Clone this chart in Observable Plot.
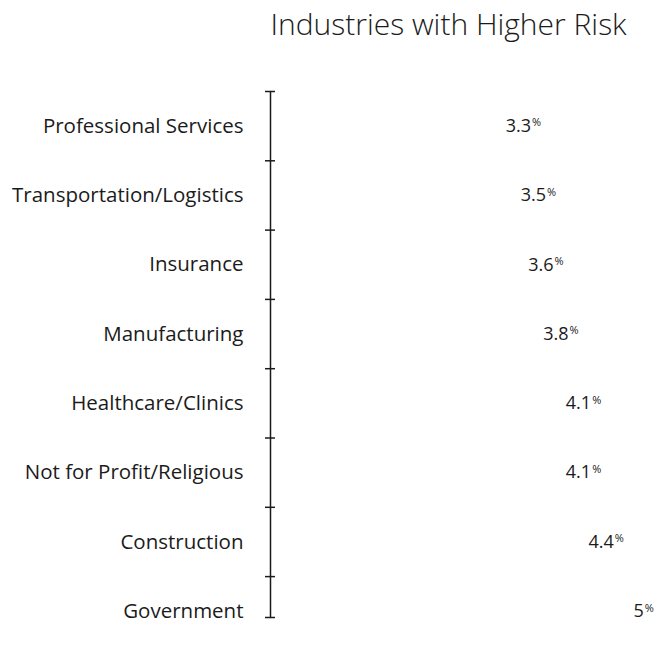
<!DOCTYPE html>
<html><head><meta charset="utf-8">
<script src="https://cdn.jsdelivr.net/npm/d3@7"></script>
<script src="https://cdn.jsdelivr.net/npm/@observablehq/plot@0.6"></script>
<style>body{margin:0;background:#fff;}</style>
</head><body><div id="chart"></div>
<script>
const industries = [
  "Professional Services",
  "Transportation/Logistics",
  "Insurance",
  "Manufacturing",
  "Healthcare/Clinics",
  "Not for Profit/Religious",
  "Construction",
  "Government"
];
const rates = [3.3, 3.5, 3.6, 3.8, 4.1, 4.1, 4.4, 5];
const rateLabels = ["3.3", "3.5", "3.6", "3.8", "4.1", "4.1", "4.4", "5"];
const title = "Industries with Higher Risk";

const data = industries.map((name, i) => ({name, rate: rates[i], label: rateLabels[i], pos: i + 0.5}));
const W = 656, H = 648, mTop = 91, mBottom = 31, mLeft = 270, mRight = 10;
const step = 69.3;
const bounds = d3.range(industries.length).concat([(H - mBottom - mTop) / step]);
const ink = "#1b1b1b";

const chart = Plot.plot({
  width: W, height: H,
  marginTop: mTop, marginBottom: mBottom, marginLeft: mLeft, marginRight: mRight,
  x: {domain: [0, 5], axis: null},
  y: {domain: [0, industries.length], range: [mTop, mTop + step * industries.length], axis: null},
  style: {fontFamily: "'Open Sans', 'Noto Sans', sans-serif", background: "white", color: ink},
  marks: [
    Plot.ruleX([0], {stroke: ink, strokeWidth: 1.5}),
    Plot.ruleY(bounds, {y: d => d, x1: 0, x2: 0, insetLeft: -5, insetRight: -5, stroke: ink, strokeWidth: 1.5}),
    Plot.text(data, {x: 0, y: "pos", text: "name", textAnchor: "end", dx: -27, fontSize: 20.5, fill: ink}),
    Plot.text(data, {x: "rate", y: "pos", text: "label", textAnchor: "start", dx: -13, fontSize: 18, fill: ink, ariaDescription: "rate labels"}),
    Plot.text([title], {frameAnchor: "top", dx: -10, dy: -57, lineAnchor: "bottom", fontSize: 30, fontWeight: 300, fill: ink})
  ]
});
document.getElementById("chart").append(chart);
d3.select(chart).selectAll('g[aria-description="rate labels"] text').each(function() {
  d3.select(this).append("tspan").attr("font-size", 11).attr("dy", "-0.5em").attr("dx", 1).text("%");
});
</script>
</body></html>
